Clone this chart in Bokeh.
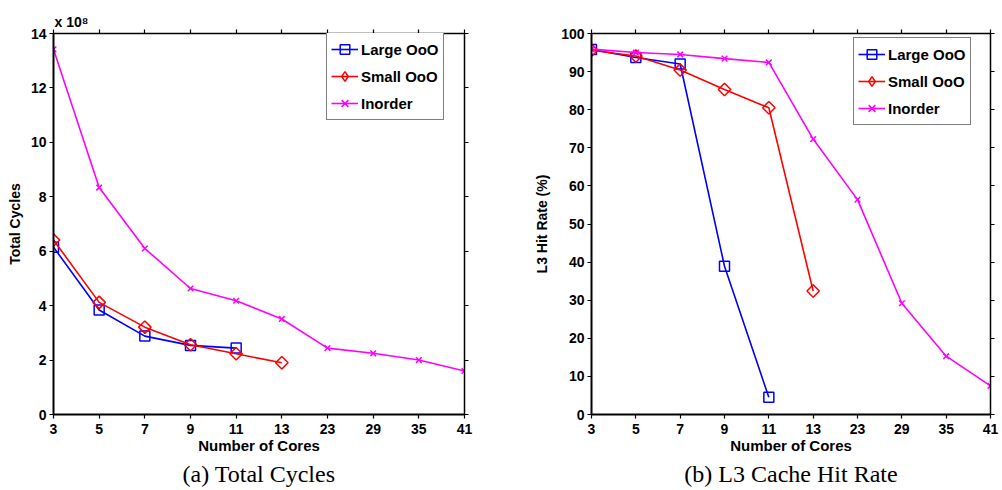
import math
from bokeh.plotting import figure
from bokeh.layouts import row
from bokeh.models import (Range1d, FixedTicker, LinearAxis, Legend, LegendItem, Title)
from bokeh.embed import file_html
from bokeh.resources import INLINE

# ---------------- data ----------------
cores = ["3", "5", "7", "9", "11", "13", "23", "29", "35", "41"]

# Total cycles (x 10^8)
cycles_large_ooo = [6.15, 3.84, 2.88, 2.54, 2.44]
cycles_small_ooo = [6.41, 4.12, 3.21, 2.56, 2.23, 1.90]
cycles_inorder = [13.42, 8.34, 6.10, 4.63, 4.18, 3.51, 2.44, 2.25, 2.00, 1.60]

# L3 hit rate (%)
hit_large_ooo = [95.8, 93.7, 92.0, 38.9, 4.5]
hit_small_ooo = [95.6, 94.1, 90.4, 85.3, 80.5, 32.4]
hit_inorder = [95.9, 95.0, 94.5, 93.4, 92.4, 72.3, 56.4, 29.2, 15.3, 7.5]

left_yticks = [0, 2, 4, 6, 8, 10, 12, 14]
right_yticks = [0, 10, 20, 30, 40, 50, 60, 70, 80, 90, 100]

series_names = ["Large OoO", "Small OoO", "Inorder"]
colors = ["#0000ff", "#ff0000", "#ff00ff"]
markers = ["square", "square", "x"]          # plot markers (square rotated 45deg = diamond)
legend_markers = ["square", "diamond", "x"]  # legend markers
marker_angles = [0, math.pi / 4, 0]
marker_sizes = [10, 8.8, 8]

SANS = "Liberation Sans"
SERIF = "Liberation Serif"
NAN = float("nan")


def style_axis(ax, ticks, labels=True, lw=2):
    ax.ticker = FixedTicker(ticks=ticks)
    ax.axis_line_width = lw
    ax.axis_line_color = "black"
    ax.major_tick_line_color = "black"
    ax.major_tick_line_width = 1.2
    ax.major_tick_out = 4
    ax.major_tick_in = 0
    ax.minor_tick_line_color = None
    ax.major_label_text_font = SANS
    ax.major_label_text_font_style = "bold"
    if labels:
        ax.major_label_text_font_size = "14px"
        ax.major_label_text_color = "black"
        ax.major_label_standoff = 3
    else:
        ax.major_label_text_font_size = "1px"
        ax.major_label_text_color = None
        ax.major_label_standoff = 0


def make_panel(yrange, yticks, data, ylabel, xlab_standoff, ylab_standoff,
               borders, legend_loc):
    bl, br, bt, bb = borders
    p = figure(width=501, height=490, output_backend="svg", toolbar_location=None,
               x_range=Range1d(0, len(cores) - 1), y_range=Range1d(*yrange),
               min_border_left=bl, min_border_right=br,
               min_border_top=bt, min_border_bottom=bb)
    p.outline_line_color = None
    p.xgrid.visible = False
    p.ygrid.visible = False
    p.background_fill_color = "white"
    p.border_fill_color = "white"

    xax = p.xaxis[0]
    style_axis(xax, list(range(len(cores))))
    xax.major_label_overrides = {i: c for i, c in enumerate(cores)}
    xax.major_label_standoff = 5
    xax.axis_label = "Number of Cores"
    xax.axis_label_text_font = SANS
    xax.axis_label_text_font_style = "bold"
    xax.axis_label_text_font_size = "15px"
    xax.axis_label_text_color = "black"
    xax.axis_label_standoff = xlab_standoff

    yax = p.yaxis[0]
    style_axis(yax, yticks)
    yax.axis_label = ylabel
    yax.axis_label_text_font = SANS
    yax.axis_label_text_font_style = "bold"
    yax.axis_label_text_font_size = "14px"
    yax.axis_label_text_color = "black"
    yax.axis_label_standoff = ylab_standoff

    top = LinearAxis()
    style_axis(top, list(range(len(cores))), labels=False, lw=1.5)
    p.add_layout(top, "above")
    right = LinearAxis()
    style_axis(right, yticks, labels=False, lw=1.5)
    p.add_layout(right, "right")

    items = []
    for name, vals, col, mk, lmk, ang, ms in zip(series_names, data, colors, markers,
                                                 legend_markers, marker_angles, marker_sizes):
        xs = list(range(len(vals)))
        l = p.line(xs, vals, line_color=col, line_width=1.6)
        s = p.scatter(xs, vals, marker=mk, size=ms, angle=ang, line_color=col,
                      fill_color=None, line_width=1.5)
        if lmk != mk:
            # legend-only marker swatch (nothing drawn in the plot area)
            s = p.scatter([NAN], [NAN], marker=lmk, size=ms, line_color=col,
                          fill_color=None, line_width=1.5)
        items.append(LegendItem(label=name, renderers=[l, s]))

    leg = Legend(items=items, location=legend_loc)
    leg.label_text_font = SANS
    leg.label_text_font_style = "bold"
    leg.label_text_font_size = "15px"
    leg.label_text_color = "black"
    leg.label_standoff = 3
    leg.glyph_width = 27
    leg.glyph_height = 24
    leg.label_height = 20
    leg.spacing = 3
    leg.padding = 4
    leg.margin = 0
    leg.border_line_color = "black"
    leg.border_line_width = 1.2
    leg.background_fill_alpha = 1.0
    p.add_layout(leg, "center")
    return p


def caption(text, offset):
    return Title(text=text, align="center", offset=offset, text_font=SERIF,
                 text_font_size="24px", text_font_style="normal", text_color="black",
                 standoff=4)


p1 = make_panel((0, 14), left_yticks,
                [cycles_large_ooo, cycles_small_ooo, cycles_inorder],
                "Total Cycles", 0, 5, (53, 37, 27, 75), (273, 294))
p1.add_layout(Title(text="x 10\u2078", align="left", offset=1, text_font=SANS,
                    text_font_size="14px", text_font_style="bold", text_color="black",
                    standoff=0), "above")
p1.add_layout(caption("(a) Total Cycles", -15), "below")

p2 = make_panel((0, 100), right_yticks,
                [hit_large_ooo, hit_small_ooo, hit_inorder],
                "L3 Hit Rate (%)", 0, 8, (90, 12, 33, 76), (262, 289))
p2.add_layout(caption("(b) L3 Cache Hit Rate", -23), "below")

layout = row(p1, p2)
open("out.html", "w").write(file_html(layout, INLINE))
